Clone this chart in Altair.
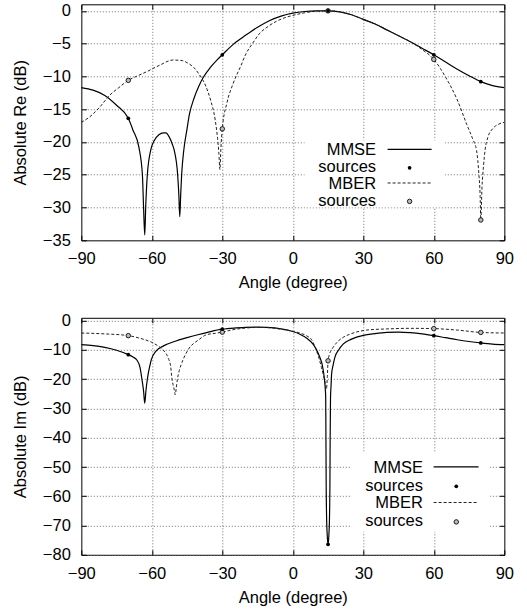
import altair as alt
import pandas as pd

FONT = "Liberation Sans"
FS = 16.5

# ---------------- data ----------------
X_TICKS = [-90, -60, -30, 0, 30, 60, 90]
RE_TICKS = [-35, -30, -25, -20, -15, -10, -5, 0]
IM_TICKS = [-80, -70, -60, -50, -40, -30, -20, -10, 0]

re_mmse_angle = [-90, -85, -80, -75, -70, -68, -65.5, -64.0, -63.5, -63.0, -62.6, -61.9, -60.3, -59, -57, -55, -54,
                 -52.5, -51.3, -50.3, -49.0, -48.5, -48.1, -47.7, -47.3, -46.4, -45, -44, -42, -40, -38, -35, -32,
                 -30, -25, -20, -15, -10, -5, 0, 5, 10, 15, 20, 25, 30, 35, 40, 45, 50, 55, 60, 65, 70, 75, 80, 85, 90]
re_mmse_db = [-11.7, -12.1, -12.9, -14.4, -16.4, -18.2, -20.8, -25.0, -30.0, -34.2, -30.0, -25.0, -21.0, -19.8, -18.9,
              -18.6, -18.6, -19.3, -20.3, -21.5, -25.0, -28.0, -31.4, -28.0, -25.0, -21.3, -18.0, -15.8, -13.3, -11.5,
              -10.1, -8.6, -7.4, -6.7, -5.0, -3.7, -2.5, -1.5, -0.8, -0.35, -0.1, 0.0, 0.0, -0.15, -0.6, -1.3, -2.0,
              -2.9, -3.8, -4.7, -5.7, -6.7, -7.8, -8.9, -9.9, -10.8, -11.4, -11.7]

re_mber_angle = [-90, -86.5, -82.2, -78, -74, -70, -66, -62.3, -56.7, -51, -47, -45, -42, -40, -37, -35, -33, -32,
                 -31.5, -31.0, -30.6, -30, -28, -25.4, -22, -20, -17, -14, -11, -7, -3, 0, 5, 10, 15, 20, 25, 30, 35,
                 40, 45, 50, 55, 60, 65, 70, 74, 76.5, 78.2, 79.2, 79.7, 80, 80.5, 81.2, 81.8, 83, 85, 87.5, 90]
re_mber_db = [-17.0, -16.2, -14.7, -12.9, -11.7, -10.6, -9.9, -9.3, -8.3, -7.5, -7.6, -7.9, -8.7, -9.6, -11.5, -13.6,
              -16.7, -19.5, -21.5, -24.2, -21.0, -18.0, -14.0, -11.1, -8.3, -6.6, -4.9, -3.4, -2.5, -1.6, -1.0, -0.7,
              -0.3, -0.05, 0.0, -0.15, -0.6, -1.3, -2.0, -2.9, -3.8, -4.7, -5.9, -7.4, -10.1, -13.6, -17.3, -19.5,
              -21.3, -25.0, -28.0, -31.9, -27.0, -23.5, -21.3, -19.3, -18.0, -17.3, -17.0]

im_mmse_angle = [-90, -85, -80, -75, -70, -68, -66.3, -65, -64.2, -63.5, -63.0, -62.5, -61.9, -61, -60.2, -58.1, -55,
                 -50, -45, -40, -35, -30, -25, -20, -15, -11, -5, 0, 3, 6, 8.6, 10, 11.5, 12.5, 13.2, 13.7, 14.0,
                 14.1, 14.2, 14.4, 14.7, 15.0, 15.3, 15.6, 15.8, 15.9, 16.05, 16.3, 16.5, 17.2, 17.9, 19.5, 21.4, 25,
                 30, 35, 40, 45, 50, 55, 60, 65, 70, 75, 80, 85, 90]
im_mmse_db = [-8.2, -8.5, -9.1, -10.1, -11.6, -12.4, -13.5, -16.0, -20.0, -24.0, -28.2, -24.0, -20.0, -16.0, -13.3,
              -10.3, -8.6, -7.0, -5.8, -4.7, -3.7, -2.9, -2.5, -2.3, -2.2, -2.3, -2.8, -3.7, -4.6, -6.0, -8.0, -9.8,
              -12.5, -15.0, -18.3, -22.0, -26.2,
              -40.0, -55.0, -68.0, -74.0, -76.4, -74.0, -68.0, -55.0, -40.0, -26.2,
              -22.0, -18.3, -15.0, -12.5, -10.0, -8.0, -6.3,
              -5.0, -4.4, -4.0, -3.9, -4.1, -4.5, -5.1, -5.8, -6.5, -7.1, -7.6, -8.0, -8.2]

im_mber_angle = [-90, -80, -70, -65, -60, -57, -55.2, -53, -52, -51.4, -50.6, -50.0, -49.6, -49.1, -48.3, -47.5,
                 -44.6, -40, -36.8, -33, -30, -25, -20, -15, -10, -5, 0, 3, 6, 8, 10.1, 11.2, 12.2, 13.0, 13.6, 14.3,
                 14.7, 15.0, 15.6, 17.2, 19, 21.4, 25, 31.4, 40, 50, 60, 70, 80, 90]
im_mber_db = [-4.2, -4.5, -5.1, -6.0, -7.4, -8.8, -10.0, -12.8, -15.5, -20.0, -23.0, -25.3, -23.0, -20.0, -17.0,
              -15.0, -10.0, -6.5, -4.8, -4.3, -3.9, -3.0, -2.5, -2.3, -2.4, -2.9, -3.6, -4.2, -5.2, -6.5, -10.3,
              -13.0, -16.0, -18.5, -20.5, -23.4, -19.0, -13.7, -11.5, -9.1, -7.2, -5.7, -4.4, -3.2, -2.8, -2.6, -2.7,
              -3.2, -4.0, -4.2]

src_angle = [-70, -30, 15, 60, 80]
re_src_mmse = [-16.4, -6.7, 0.0, -6.7, -10.8]
re_src_mber = [-10.6, -18.0, 0.0, -7.4, -31.9]
im_src_mmse = [-11.6, -2.9, -76.4, -5.1, -7.6]
im_src_mber = [-5.1, -3.9, -13.7, -2.7, -4.0]

legend_labels = ["MMSE", "sources", "MBER", "sources"]

# ---------------- chart ----------------
W = 423
TICK = alt.ExprRef(expr="-5")
ONE = pd.DataFrame({"k": [0]})


def df(a, v):
    return pd.DataFrame({"angle": a, "db": v})


def legend_layers(box, text_x, line_x0, line_x1, mark_x, baselines):
    bx0, bx1, by0, by1 = box
    out = [alt.Chart(ONE).mark_rect(color="white").encode(
        x=alt.value(bx0), x2=alt.value(bx1), y=alt.value(by0), y2=alt.value(by1))]
    for lab, bl in zip(legend_labels, baselines):
        out.append(alt.Chart(ONE).mark_text(text=lab, align="right", baseline="alphabetic", font=FONT,
                                            fontSize=FS, color="black").encode(
            x=alt.value(text_x), y=alt.value(bl)))
    out.append(alt.Chart(ONE).mark_rule(color="black", strokeWidth=1.2).encode(
        x=alt.value(line_x0), x2=alt.value(line_x1), y=alt.value(baselines[0] - 5.9)))
    out.append(alt.Chart(ONE).mark_circle(size=14, color="black", opacity=1).encode(
        x=alt.value(mark_x), y=alt.value(baselines[1] - 4.3)))
    out.append(alt.Chart(ONE).mark_rule(color="#222", strokeWidth=1, strokeDash=[3, 2]).encode(
        x=alt.value(line_x0), x2=alt.value(line_x1), y=alt.value(baselines[2] - 5.9)))
    out.append(alt.Chart(ONE).mark_point(shape="circle", size=20, filled=False, fill="#bbbbbb", stroke="#1a1a1a",
                                         strokeWidth=1, fillOpacity=1, strokeOpacity=1, opacity=1).encode(
        x=alt.value(mark_x), y=alt.value(baselines[3] - 4.3)))
    return out


def panel(mmse, mber, s_mmse, s_mber, ymin, yticks, ytitle, height, leg):
    xs = alt.Scale(domain=[-90, 90], nice=False, zero=False)
    ys = alt.Scale(domain=[ymin, 1], nice=False, zero=False)
    common = dict(labelFont=FONT, labelFontSize=FS, labelColor="black", titleFont=FONT, titleFontSize=FS,
                  titleColor="black", titleFontWeight="normal", tickColor="black", tickWidth=1,
                  gridColor="#707070", gridDash=[1, 2], gridWidth=1, gridOpacity=1)
    xax = alt.Axis(values=X_TICKS, title="Angle (degree)", grid=True, domain=False, ticks=True, tickSize=TICK,
                   labelPadding=15.6, labelFlush=False, titleY=47.7, titleBaseline="alphabetic", **common)
    yax = alt.Axis(values=yticks, title=ytitle, grid=True, domain=False, ticks=True, tickSize=TICK,
                   labelPadding=16, titleX=-55.7, titleBaseline="alphabetic", titleAngle=270, **common)
    base_x = lambda ax: alt.X("angle:Q", scale=xs, axis=ax)
    base_y = lambda ax: alt.Y("db:Q", scale=ys, axis=ax)

    l_mmse = alt.Chart(mmse).mark_line(color="black", strokeWidth=1.2, interpolate="monotone", clip=True).encode(
        x=base_x(xax), y=base_y(yax))
    l_mber = alt.Chart(mber).mark_line(color="#222", strokeWidth=1, strokeDash=[3, 2], interpolate="monotone",
                                       clip=True).encode(x=base_x(None), y=base_y(None))
    p_mber = alt.Chart(s_mber).mark_point(shape="circle", size=20, filled=False, fill="#bbbbbb", stroke="#1a1a1a",
                                          strokeWidth=1, fillOpacity=1, strokeOpacity=1, opacity=1).encode(
        x=base_x(None), y=base_y(None))
    p_mmse = alt.Chart(s_mmse).mark_circle(size=14, color="black", opacity=1).encode(
        x=base_x(None), y=base_y(None))
    mirror = alt.Chart(mmse).mark_line(opacity=0).encode(
        x=base_x(alt.Axis(orient="top", values=X_TICKS, labels=False, grid=False, domain=False, ticks=True,
                          tickSize=TICK, tickColor="black", title=None)),
        y=base_y(alt.Axis(orient="right", values=yticks, labels=False, grid=False, domain=False, ticks=True,
                          tickSize=TICK, tickColor="black", title=None)))
    layers = [l_mmse, l_mber, p_mber, p_mmse] + legend_layers(*leg) + [mirror]
    return alt.layer(*layers).resolve_axis(x="independent", y="independent").properties(width=W, height=height)


top = panel(df(re_mmse_angle, re_mmse_db), df(re_mber_angle, re_mber_db),
            df(src_angle, re_src_mmse), df(src_angle, re_src_mber),
            -35, RE_TICKS, "Absolute Re (dB)", 236,
            ((223.3, 363.3, 136, 203), 294.8, 306.3, 350.3, 328.3, [151, 167.8, 184.6, 201.4]))

bottom = panel(df(im_mmse_angle, im_mmse_db), df(im_mber_angle, im_mber_db),
               df(src_angle, im_src_mmse), df(src_angle, im_src_mber),
               -80, IM_TICKS, "Absolute Im (dB)", 237,
               ((270.3, 408.3, 134, 214), 341.6, 352.3, 397.3, 375, [155, 172.8, 190.6, 208.4]))

chart = alt.vconcat(top, bottom, spacing=19.5).properties(
    padding={"left": 11.3, "top": 2.3, "right": 0, "bottom": 0}, background="white"
).configure_view(stroke="black", strokeWidth=1)

chart.save("out.html", embed_options={"renderer": "svg", "actions": False})
